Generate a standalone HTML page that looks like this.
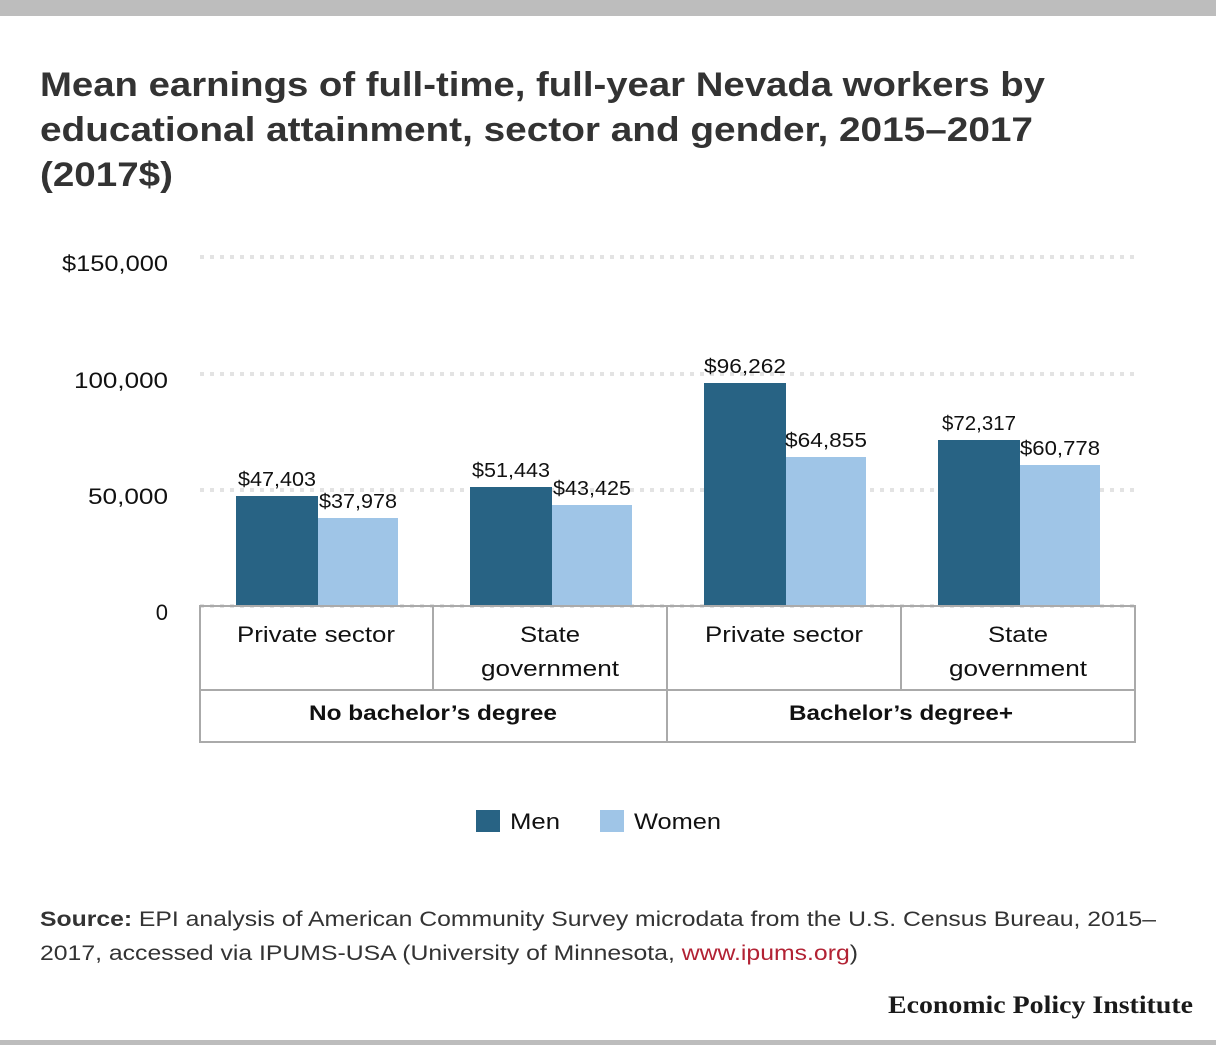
<!DOCTYPE html>
<html><head><meta charset="utf-8"><style>
body{margin:0;background:#fff;}
svg{display:block;font-family:"Liberation Sans",sans-serif;}
</style></head><body>
<svg width="1216" height="1045" viewBox="0 0 1216 1045">
<rect x="0" y="0" width="1216" height="16" fill="#bdbdbd"/>
<rect x="0" y="1040" width="1216" height="5" fill="#bdbdbd"/>
<g font-weight="bold" font-size="34" fill="#333">
<text x="40" y="96" textLength="1005" lengthAdjust="spacingAndGlyphs">Mean earnings of full-time, full-year Nevada workers by</text>
<text x="40" y="141" textLength="993" lengthAdjust="spacingAndGlyphs">educational attainment, sector and gender, 2015–2017</text>
<text x="40" y="186" textLength="133" lengthAdjust="spacingAndGlyphs">(2017$)</text>
</g>
<g stroke="#e3e3e3" stroke-width="4" stroke-dasharray="4 6">
<line x1="200" y1="257" x2="1135" y2="257"/>
<line x1="200" y1="374" x2="1135" y2="374"/>
<line x1="200" y1="490" x2="1135" y2="490"/>
<line x1="200" y1="606" x2="1135" y2="606"/>
</g>
<g font-size="22" fill="#111" text-anchor="end">
<text x="168" y="271" textLength="106" lengthAdjust="spacingAndGlyphs">$150,000</text>
<text x="168" y="388" textLength="94" lengthAdjust="spacingAndGlyphs">100,000</text>
<text x="168" y="504" textLength="80" lengthAdjust="spacingAndGlyphs">50,000</text>
<text x="168" y="620">0</text>
</g>
<g fill="#286384">
<rect x="236" y="496" width="82" height="110"/>
<rect x="470" y="487" width="82" height="119"/>
<rect x="704" y="383" width="82" height="223"/>
<rect x="938" y="440" width="82" height="166"/>
</g>
<g fill="#9fc5e7">
<rect x="318" y="518" width="80" height="88"/>
<rect x="552" y="505" width="80" height="101"/>
<rect x="786" y="457" width="80" height="149"/>
<rect x="1020" y="465" width="80" height="141"/>
</g>
<g font-size="20" fill="#111" text-anchor="middle">
<text x="277" y="486" textLength="78" lengthAdjust="spacingAndGlyphs">$47,403</text>
<text x="358" y="508" textLength="78" lengthAdjust="spacingAndGlyphs">$37,978</text>
<text x="511" y="477" textLength="78" lengthAdjust="spacingAndGlyphs">$51,443</text>
<text x="592" y="495" textLength="78" lengthAdjust="spacingAndGlyphs">$43,425</text>
<text x="745" y="373" textLength="82" lengthAdjust="spacingAndGlyphs">$96,262</text>
<text x="826" y="447" textLength="82" lengthAdjust="spacingAndGlyphs">$64,855</text>
<text x="979" y="430" textLength="74" lengthAdjust="spacingAndGlyphs">$72,317</text>
<text x="1060" y="455" textLength="80" lengthAdjust="spacingAndGlyphs">$60,778</text>
</g>
<g stroke="#aaa" stroke-width="2" fill="none">
<rect x="200" y="606" width="935" height="136"/>
<line x1="200" y1="690" x2="1135" y2="690"/>
<line x1="433" y1="606" x2="433" y2="690"/>
<line x1="667" y1="606" x2="667" y2="742"/>
<line x1="901" y1="606" x2="901" y2="690"/>
</g>
<g font-size="22" fill="#111" text-anchor="middle">
<text x="316" y="642" textLength="158" lengthAdjust="spacingAndGlyphs">Private sector</text>
<text x="550" y="642" textLength="60" lengthAdjust="spacingAndGlyphs">State</text>
<text x="550" y="676" textLength="138" lengthAdjust="spacingAndGlyphs">government</text>
<text x="784" y="642" textLength="158" lengthAdjust="spacingAndGlyphs">Private sector</text>
<text x="1018" y="642" textLength="60" lengthAdjust="spacingAndGlyphs">State</text>
<text x="1018" y="676" textLength="138" lengthAdjust="spacingAndGlyphs">government</text>
<text x="433" y="720" font-weight="bold" font-size="21" textLength="248" lengthAdjust="spacingAndGlyphs">No bachelor’s degree</text>
<text x="901" y="720" font-weight="bold" font-size="21" textLength="224" lengthAdjust="spacingAndGlyphs">Bachelor’s degree+</text>
</g>
<rect x="476" y="810" width="24" height="22" fill="#286384"/>
<text x="510" y="829" font-size="22" fill="#111" textLength="50" lengthAdjust="spacingAndGlyphs">Men</text>
<rect x="600" y="810" width="24" height="22" fill="#9fc5e7"/>
<text x="634" y="829" font-size="22" fill="#111" textLength="87" lengthAdjust="spacingAndGlyphs">Women</text>
<g font-size="21" fill="#333">
<text x="40" y="926" textLength="1116" lengthAdjust="spacingAndGlyphs"><tspan font-weight="bold">Source:</tspan> EPI analysis of American Community Survey microdata from the U.S. Census Bureau, 2015–</text>
<text x="40" y="960" textLength="818" lengthAdjust="spacingAndGlyphs">2017, accessed via IPUMS-USA (University of Minnesota, <tspan fill="#b22234">www.ipums.org</tspan>)</text>
</g>
<text x="1193" y="1013" text-anchor="end" font-family="Liberation Serif,serif" font-weight="bold" font-size="25" fill="#1a1a1a" textLength="305" lengthAdjust="spacingAndGlyphs">Economic Policy Institute</text>
</svg>
</body></html>
